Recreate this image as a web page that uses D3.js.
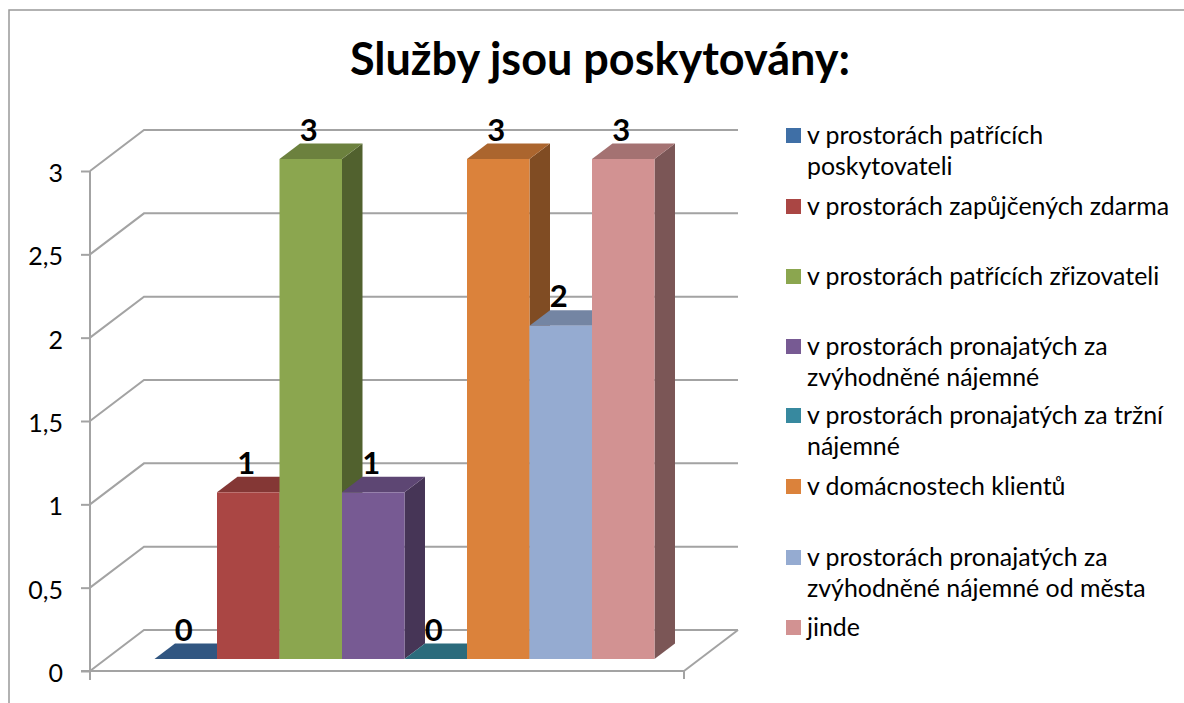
<!DOCTYPE html>
<html><head><meta charset="utf-8">
<script src="https://cdn.jsdelivr.net/npm/d3@7"></script>
<style>html,body{margin:0;background:#fff}svg{display:block}text{font-family:Lato,Carlito,sans-serif;fill:#000}</style>
</head><body><svg id="c" width="1184" height="703"></svg>
<script>
const titleText = "Služby jsou poskytovány:";
const categories = ["v prostorách patřících poskytovateli","v prostorách zapůjčených zdarma","v prostorách patřících zřizovateli","v prostorách pronajatých za zvýhodněné nájemné","v prostorách pronajatých za tržní nájemné","v domácnostech klientů","v prostorách pronajatých za zvýhodněné nájemné od města","jinde"];
const legendLines = [["v prostorách patřících","poskytovateli"],["v prostorách zapůjčených zdarma"],["v prostorách patřících zřizovateli"],["v prostorách pronajatých za","zvýhodněné nájemné"],["v prostorách pronajatých za tržní","nájemné"],["v domácnostech klientů"],["v prostorách pronajatých za","zvýhodněné nájemné od města"],["jinde"]];
const values = [0,1,3,1,0,3,2,3];
const colors = ["#3f6fa6","#aa4644","#8ba64f","#775a93","#37899f","#db823b","#95abd1","#d29292"];
const yTicks = [0,0.5,1,1.5,2,2.5,3];
const legendY = [136,207,277,347,416,487,558,628];

const svg = d3.select("#c");
const gray = "#a3a3a3";
const y = d3.scaleLinear().domain([0,3]).range([671,171]);
const x = d3.scaleBand().domain(categories).range([154.5,654.5]);
const wall = {dx:54, dy:-41}, depth = {dx:20.5, dy:-15.5}, inset = 12;
const plotL = 90, plotR = 684;

svg.append("path").attr("d","M9,703V10H1184").attr("fill","none").attr("stroke","#999").attr("stroke-width",1.5);

svg.append("text").attr("x",600).attr("y",75).attr("text-anchor","middle")
  .attr("font-size",45).attr("font-weight",700).text(titleText);

const grid = svg.append("g").attr("fill","none").attr("stroke",gray).attr("stroke-width",2);
yTicks.forEach(t=>{
  grid.append("path").attr("d",d3.line()([[plotL,y(t)],[plotL+wall.dx,y(t)+wall.dy],[plotR+wall.dx,y(t)+wall.dy]]));
});
grid.append("path").attr("d",d3.line()([[plotR+wall.dx,y(0)+wall.dy],[plotR,y(0)]]));

const yAxis = d3.axisLeft(y).tickValues(yTicks).tickSize(9).tickPadding(18)
  .tickFormat(d=>String(d).replace(".",","));
const ga = svg.append("g").attr("transform",`translate(${plotL},0)`).call(yAxis);
ga.select(".domain").remove();
ga.selectAll("line").attr("stroke",gray).attr("stroke-width",2);
ga.selectAll("text").attr("font-size",25).attr("font-family","Lato,Carlito,sans-serif").attr("fill","#000").attr("dy","0.42em");
const ax = svg.append("g").attr("stroke",gray).attr("stroke-width",2);
ax.append("line").attr("x1",plotL).attr("x2",plotL).attr("y1",y(3)).attr("y2",y(0)+9);
ax.append("line").attr("x1",plotL-9).attr("x2",plotR).attr("y1",y(0)).attr("y2",y(0));
ax.append("line").attr("x1",plotR).attr("x2",plotR).attr("y1",y(0)).attr("y2",y(0)+8);

const bars = svg.append("g");
const base = d => y(d) - inset;
categories.forEach((c,i)=>{
  const x0 = x(c), x1 = x0 + x.bandwidth(), yb = base(0), yt = base(values[i]), col = colors[i];
  const g = bars.append("g");
  const line = d3.line();
  if (values[i] > 0) {
    g.append("path").attr("fill",d3.rgb(col).darker(1.5).formatHex())
      .attr("d",line([[x1,yb],[x1+depth.dx,yb+depth.dy],[x1+depth.dx,yt+depth.dy],[x1,yt]])+"Z");
  }
  g.append("path").attr("fill",d3.rgb(col).darker(0.7).formatHex())
    .attr("d",line([[x0,yt],[x0+depth.dx,yt+depth.dy],[x1+depth.dx,yt+depth.dy],[x1,yt]])+"Z");
  if (values[i] > 0) g.append("rect").attr("x",x0).attr("y",yt).attr("width",x1-x0).attr("height",yb-yt).attr("fill",col);
});
svg.append("g").selectAll("text").data(categories).join("text")
  .attr("x",c=>x(c)+x.bandwidth()/2-2).attr("y",(c,i)=>base(values[i])+depth.dy-3)
  .attr("text-anchor","middle").attr("font-size",31).attr("font-weight",700)
  .text((c,i)=>values[i]);

const lg = svg.append("g");
categories.forEach((c,i)=>{
  lg.append("rect").attr("x",786).attr("y",legendY[i]-8).attr("width",15).attr("height",15).attr("fill",colors[i]);
  legendLines[i].forEach((l,j)=>{
    lg.append("text").attr("x",807).attr("y",legendY[i]+8+j*30.5).attr("font-size",24.9).text(l);
  });
});
</script></body></html>
